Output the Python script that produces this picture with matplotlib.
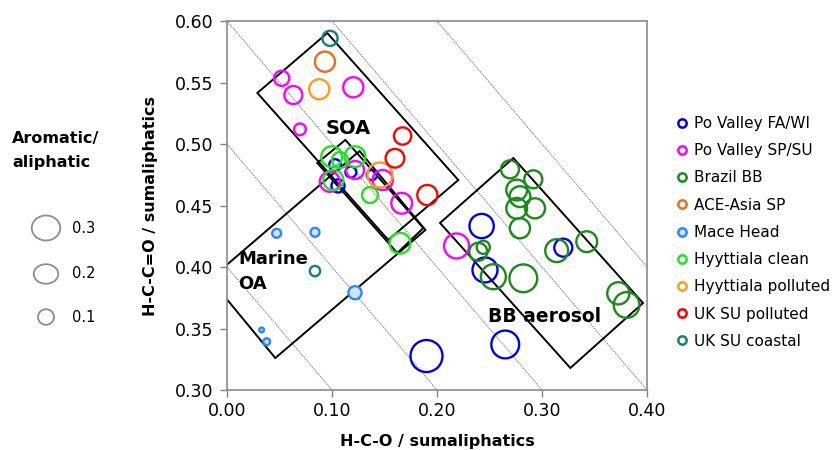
import numpy as np
import matplotlib
matplotlib.use("Agg")
import matplotlib.pyplot as plt
from matplotlib.patches import Polygon, Ellipse
from matplotlib.lines import Line2D
from matplotlib.ticker import FormatStrFormatter

plt.rcParams['font.family'] = 'DejaVu Sans'

# data: x = H-C-O, y = H-C-C=O, r = aromatic/aliphatic
po_fa_x = [0.190, 0.265, 0.2425, 0.2457, 0.3203, 0.1029, 0.1057, 0.118, 0.138]
po_fa_y = [0.3276, 0.337, 0.4333, 0.3976, 0.4157, 0.4829, 0.4659, 0.4772, 0.4748]
po_fa_r = [0.40, 0.34, 0.29, 0.30, 0.20, 0.11, 0.13, 0.10, 0.09]

po_sp_x = [0.0521, 0.0632, 0.1203, 0.0695, 0.098, 0.122, 0.1483, 0.1664, 0.2187]
po_sp_y = [0.5534, 0.5398, 0.5461, 0.5119, 0.4693, 0.4789, 0.4707, 0.4518, 0.4171]
po_sp_r = [0.16, 0.20, 0.23, 0.11, 0.23, 0.20, 0.23, 0.24, 0.30]

brazil_x = [0.2695, 0.2917, 0.2759, 0.279, 0.2759, 0.2933, 0.279, 0.2441, 0.2393,
            0.2537, 0.2822, 0.314, 0.3426, 0.3727, 0.3806]
brazil_y = [0.4794, 0.4713, 0.4626, 0.4572, 0.4477, 0.4477, 0.4315, 0.4160, 0.4124,
            0.3921, 0.3908, 0.4133, 0.4206, 0.3786, 0.3691]
brazil_r = [0.20, 0.20, 0.24, 0.24, 0.24, 0.23, 0.23, 0.13, 0.20,
            0.30, 0.34, 0.27, 0.24, 0.26, 0.31]

ace_x = [0.0933]
ace_y = [0.5669]
ace_r = [0.23]

mace_x = [0.0473, 0.0838, 0.1219, 0.033, 0.0378]
mace_y = [0.4274, 0.4282, 0.3791, 0.3488, 0.3393]
mace_r = [0.07, 0.07, 0.13, 0.01, 0.04]

hyy_clean_x = [0.0997, 0.1076, 0.1219, 0.1012, 0.1362, 0.1648]
hyy_clean_y = [0.4897, 0.4870, 0.4897, 0.4707, 0.4585, 0.4193]
hyy_clean_r = [0.24, 0.17, 0.24, 0.23, 0.17, 0.24]

hyy_poll_x = [0.0879, 0.1457]
hyy_poll_y = [0.5445, 0.4748]
hyy_poll_r = [0.23, 0.30]

uk_poll_x = [0.1673, 0.16, 0.1908]
uk_poll_y = [0.5065, 0.4884, 0.4585]
uk_poll_r = [0.19, 0.21, 0.23]

uk_coast_x = [0.0981, 0.0838]
uk_coast_y = [0.5859, 0.3967]
uk_coast_r = [0.16, 0.09]

labels = ['Po Valley FA/WI', 'Po Valley SP/SU', 'Brazil BB', 'ACE-Asia SP', 'Mace Head',
          'Hyyttiala clean', 'Hyyttiala polluted', 'UK SU polluted', 'UK SU coastal']

# source boxes (corners in data units)
soa_box = [(0.0955, 0.5902), (0.0289, 0.5415), (0.1536, 0.4220), (0.2203, 0.4707)]
mid_box = [(0.1127, 0.5033), (0.0860, 0.4846), (0.1622, 0.4114), (0.1870, 0.4317)]
marine_box = [(0.1262, 0.4943), (-0.0160, 0.3902), (0.0460, 0.3260), (0.1890, 0.4301)]
bb_box = [(0.2727, 0.4886), (0.2029, 0.4358), (0.3270, 0.3179), (0.3962, 0.3707)]

guide_sums = [0.4, 0.5, 0.6, 0.7, 0.8]


def msize(r):
    d_px = 4 + 70 * np.asarray(r)
    return (d_px * 0.72) ** 2


fig = plt.figure(figsize=(8.37, 4.5), dpi=100)
ax = fig.add_axes([227 / 837, 1 - 390 / 450, 420 / 837, 369 / 450])
ax.set_xlim(0, 0.4)
ax.set_ylim(0.3, 0.6)

xs = np.array([-0.1, 0.5])
for c in guide_sums:
    ax.plot(xs, c - xs, color='#777777', lw=0.6, ls=(0, (2, 1)), zorder=1)

for box in [soa_box, mid_box, marine_box, bb_box]:
    ax.add_patch(Polygon(box, closed=True, fill=False, ec='black', lw=1.4, zorder=2))

series = [
    (po_fa_x, po_fa_y, po_fa_r, '#0000EE', 'none'),
    (po_sp_x, po_sp_y, po_sp_r, '#FF00FF', 'none'),
    (brazil_x, brazil_y, brazil_r, '#1A8A1A', 'none'),
    (ace_x, ace_y, ace_r, '#F26B1D', 'none'),
    (mace_x, mace_y, mace_r, '#3385FF', '#CCE6FF'),
    (hyy_clean_x, hyy_clean_y, hyy_clean_r, '#22E022', 'none'),
    (hyy_poll_x, hyy_poll_y, hyy_poll_r, '#FF9A1A', 'none'),
    (uk_poll_x, uk_poll_y, uk_poll_r, '#FF0000', 'none'),
    (uk_coast_x, uk_coast_y, uk_coast_r, '#128080', 'none'),
]
handles = []
for (x, y, r, col, fc), lab in zip(series, labels):
    ax.scatter(x, y, s=msize(r), facecolors=fc, edgecolors=col, linewidths=1.7, zorder=3)
    handles.append(Line2D([], [], ls='none', marker='o', markersize=6, mfc=fc,
                          mec=col, mew=1.8, label=lab))

ax.text(0.1155, 0.513, 'SOA', fontsize=14, fontweight='bold', ha='center', va='center', zorder=4)
ax.text(0.0105, 0.4065, 'Marine', fontsize=13, fontweight='bold', ha='left', va='center', zorder=4)
ax.text(0.0105, 0.386, 'OA', fontsize=13, fontweight='bold', ha='left', va='center', zorder=4)
ax.text(0.2486, 0.3594, 'BB aerosol', fontsize=13.5, fontweight='bold', ha='left', va='center', zorder=4)

ax.set_xticks(np.arange(0, 0.41, 0.1))
ax.set_yticks(np.arange(0.30, 0.601, 0.05))
ax.xaxis.set_major_formatter(FormatStrFormatter('%.2f'))
ax.yaxis.set_major_formatter(FormatStrFormatter('%.2f'))
ax.tick_params(direction='out', length=5, width=1, color='#808080', labelsize=12.5)
ax.tick_params(axis='y', pad=5)
for sp in ax.spines.values():
    sp.set_color('#8a8a8a')
    sp.set_linewidth(1.2)

ax.set_xlabel('H-C-O / sumaliphatics', fontsize=11.5, fontweight='bold', labelpad=10)
ax.set_ylabel('H-C-C=O / sumaliphatics', fontsize=11.5, fontweight='bold', labelpad=12)

fig.legend(handles=handles, loc='upper left', bbox_to_anchor=(676 / 837, 1 - 116 / 450),
           bbox_transform=fig.transFigure, frameon=False, fontsize=11,
           handlelength=0.75, handletextpad=0.4, labelspacing=0.8,
           borderpad=0, borderaxespad=0)

# size key
fig.text(12 / 837, 1 - 138 / 450, 'Aromatic/', fontsize=11.5, fontweight='bold', va='center')
fig.text(12 / 837, 1 - 162 / 450, 'aliphatic', fontsize=11.5, fontweight='bold', va='center')
key_vals = [0.3, 0.2, 0.1]
key_y = [228, 274, 317]
key_w = [28.5, 24.5, 16]
key_h = [25, 19.5, 15.5]
for v, yy, w, h in zip(key_vals, key_y, key_w, key_h):
    fig.add_artist(Ellipse((46 / 837, 1 - yy / 450), w / 837, h / 450,
                           transform=fig.transFigure, fill=False, ec='#8c8c8c', lw=1.3))
    fig.text(72 / 837, 1 - yy / 450, f'{v:.1f}', fontsize=10.5, va='center')

fig.savefig('out.png', dpi=100)
